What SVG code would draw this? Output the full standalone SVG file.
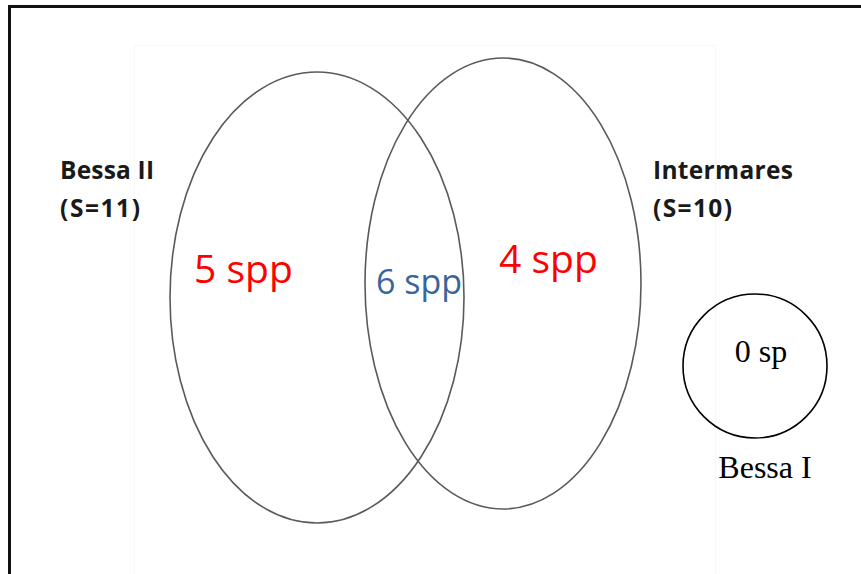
<svg xmlns="http://www.w3.org/2000/svg" width="861" height="574" viewBox="0 0 861 574">
<style>
.ell{fill:none;stroke:#5a5a5a;stroke-width:1.6}
.lbl{font-family:"Open Sans","Liberation Sans",sans-serif;font-weight:bold;font-size:24.5px;fill:#1a1a1a}
.big{font-family:"Open Sans","Liberation Sans",sans-serif;font-size:39px}
.tm{font-family:"Liberation Serif",serif;font-size:32px;fill:#000}
</style>
<rect width="861" height="574" fill="#fff"/>
<rect x="134.5" y="45.5" width="581" height="540" fill="none" stroke="#f8f8f8" stroke-width="1"/>
<path d="M9.5 574 V6.5 H861" fill="none" stroke="#111" stroke-width="3"/>
<g id="bessa2">
<ellipse class="ell" cx="317" cy="297.5" rx="147" ry="225.5"/>
<text class="lbl" x="60" y="179" textLength="94">Bessa II</text>
<text class="lbl" x="60" y="217" textLength="80">(S=11)</text>
<text class="big" x="194" y="283" fill="#ff0000">5 spp</text>
</g>
<g id="intermares">
<ellipse class="ell" cx="503" cy="283.5" rx="138" ry="225.5"/>
<text class="lbl" x="653" y="179" textLength="140">Intermares</text>
<text class="lbl" x="653" y="217" textLength="79">(S=10)</text>
<text class="big" x="499" y="273" fill="#ff0000">4 spp</text>
</g>
<g id="shared">
<text x="376" y="294" font-family="'Open Sans','Liberation Sans',sans-serif" font-size="34" fill="#3a659a">6 spp</text>
</g>
<g id="bessa1">
<circle cx="755" cy="366" r="72" fill="none" stroke="#000" stroke-width="1.6"/>
<text class="tm" x="761" y="362" text-anchor="middle">0 sp</text>
<text class="tm" x="765" y="478" text-anchor="middle">Bessa I</text>
</g>
<g id="connectors"/>
</svg>
